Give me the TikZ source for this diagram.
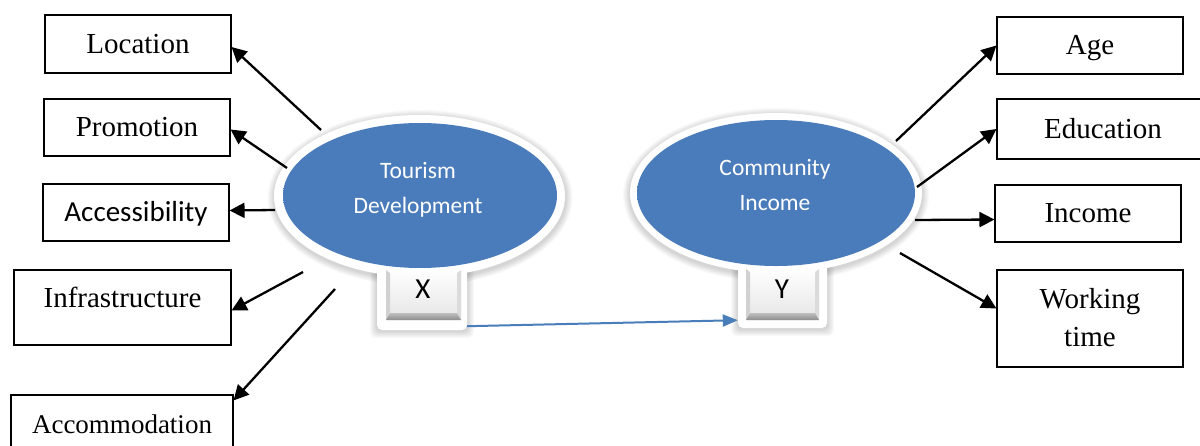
\documentclass[tikz,border=0pt]{standalone}
\usepackage{fontspec}
\setmainfont{Liberation Serif}
\newfontfamily\calib{Carlito}
\usetikzlibrary{arrows.meta,shapes.geometric}
\definecolor{bmid}{RGB}{74,124,187}
\definecolor{bdark}{RGB}{55,95,150}
\definecolor{arrowblue}{RGB}{74,126,187}
\pgfdeclareradialshading{blueball}{\pgfpoint{0bp}{0bp}}{color(0bp)=(bmid); color(36bp)=(bmid); color(46bp)=(bdark); color(50bp)=(bdark)}
\begin{document}
\begin{tikzpicture}[x=1pt,y=-1pt,
  box/.style={draw=black, line width=1.1pt, inner sep=0pt, text height=20pt, text depth=2pt,
    font=\fontsize{29}{35}\selectfont},
  mbox/.style={draw=black, line width=1.1pt, inner sep=0pt, align=center,
    font=\fontsize{29}{38}\selectfont},
  sansbox/.style={box, font=\calib\fontsize{29}{35}\selectfont},
  conn/.style={line width=2.3pt, -{Triangle[length=15pt,width=15pt]}},
  blueconn/.style={draw=arrowblue, line width=2pt, -{Triangle[length=15pt,width=12pt]}, arrowblue},
  bluell/.style={ellipse, shading=blueball, inner sep=0pt},
  keyout/.style={rectangle, fill=white, rounded corners=5pt, inner sep=0pt},
  keytxt/.style={font=\calib\fontsize{29}{30}\selectfont, text=black, inner sep=0pt},
  etxt/.style={font=\calib\fontsize{23.5}{35}\selectfont, text=white, align=center, inner sep=0pt},
]
\useasboundingbox (0,0) rectangle (1200,445);
\fill[white] (0,0) rectangle (1200,445);

% ---------- soft shadows ----------
\foreach \i in {1,...,7}{
  \fill[black, opacity=0.022] (420,198) ellipse ({145.5+\i} and {81+\i});
  \fill[black, opacity=0.022] (776,195) ellipse ({146+\i} and {80+\i});
  \fill[black, opacity=0.022, rounded corners=5pt] (377-\i,255) rectangle (467+\i,331+\i);
  \fill[black, opacity=0.022, rounded corners=5pt] (738-\i,255) rectangle (827+\i,329+\i);
}

% ---------- white rims ----------
\fill[white] (419.5,196) ellipse (145.5 and 81);
\fill[white] (776,193) ellipse (146 and 80);
\node[keyout, minimum width=90pt, minimum height=75pt] (xo) at (422,292.5) {};
\node[keyout, minimum width=89pt, minimum height=73pt] (yo) at (782.5,291.5) {};

% ---------- blue ellipses ----------
\node[bluell, minimum width=274pt, minimum height=145pt] (td) at (420,195.5) {};
\node[bluell, minimum width=278pt, minimum height=146pt] (ci) at (776,193) {};
\node[etxt] (tdt) at (418,189.5) {Tourism\\Development};
\node[etxt] (cit) at (775,185) {Community\\Income};

% ---------- keys ----------
\shade[top color=white, bottom color=black!10, rounded corners=3pt] (386,268) rectangle (461,320);
\fill[black!18] (386,270) -- (390,273) -- (390,313) -- (386,320) -- cycle;
\fill[black!14] (461,270) -- (457,273) -- (457,313) -- (461,320) -- cycle;
\shade[top color=black!25, bottom color=black!45] (390,313) -- (457,313) -- (461,320) -- (386,320) -- cycle;
\shade[top color=white, bottom color=black!10, rounded corners=3pt] (746,267) rectangle (819,320);
\fill[black!18] (746,269) -- (750,272) -- (750,313) -- (746,320) -- cycle;
\fill[black!14] (819,269) -- (815,272) -- (815,313) -- (819,320) -- cycle;
\shade[top color=black!25, bottom color=black!45] (750,313) -- (815,313) -- (819,320) -- (746,320) -- cycle;
\node[keytxt] (xk) at (423,289) {X};
\node[keytxt] (yk) at (782,289) {Y};

% ---------- boxes left ----------
\node[box, minimum width=186pt, minimum height=58pt] (loc) at (138,44) {Location};
\node[box, minimum width=186pt, minimum height=57pt] (pro) at (137,127.5) {Promotion};
\node[sansbox, minimum width=186pt, minimum height=57pt] (acs) at (136,212.5) {Accessibility};
\node[box, minimum width=217pt, minimum height=75pt, text depth=21pt] (inf) at (122.5,307.5) {Infrastructure};
\node[box, font=\fontsize{27}{33}\selectfont, minimum width=222pt, minimum height=60pt, text depth=4pt] (acc) at (122,425) {Accommodation};

% ---------- boxes right ----------
\node[box, minimum width=186pt, minimum height=57pt] (age) at (1090,45.5) {Age};
\node[box, minimum width=212pt, minimum height=60pt] (edu) at (1103,129) {Education};
\node[box, minimum width=186pt, minimum height=57pt] (inc) at (1088,213.5) {Income};
\node[mbox, minimum width=186pt, minimum height=97pt] (wt) at (1090,318.5) {\rule{0pt}{24pt}Working\\time\vphantom{g}};

% ---------- connector start points ----------
\coordinate (sLoc) at (321,130);
\coordinate (sPro) at (287,168);
\coordinate (sAcs) at (275,210);
\coordinate (sInf) at (303,272);
\coordinate (sAcc) at (335,289);
\coordinate (sAge) at (896,141);
\coordinate (sEdu) at (917,187);
\coordinate (sInc) at (915,220);
\coordinate (sWt) at (900,253);

% ---------- connectors ----------
\draw[conn] (sLoc) -- ([yshift=-3pt]loc.east);
\draw[conn] (sPro) -- ([yshift=-2pt]pro.east);
\draw[conn] (sAcs) -- ([yshift=2pt]acs.east);
\draw[conn] (sInf) -- ([yshift=-3pt]inf.east);
\draw[conn] (sAcc) -- ([yshift=-6pt]acc.north east);
\draw[conn] (sAge) -- (age.west);
\draw[conn] (sEdu) -- (edu.west);
\draw[conn] (sInc) -- ([yshift=-6pt]inc.west);
\draw[conn] (sWt) -- ([yshift=10pt]wt.west);
\draw[blueconn] ([yshift=4pt]xo.south east) -- ([yshift=8pt]yo.south west);
\end{tikzpicture}
\end{document}
